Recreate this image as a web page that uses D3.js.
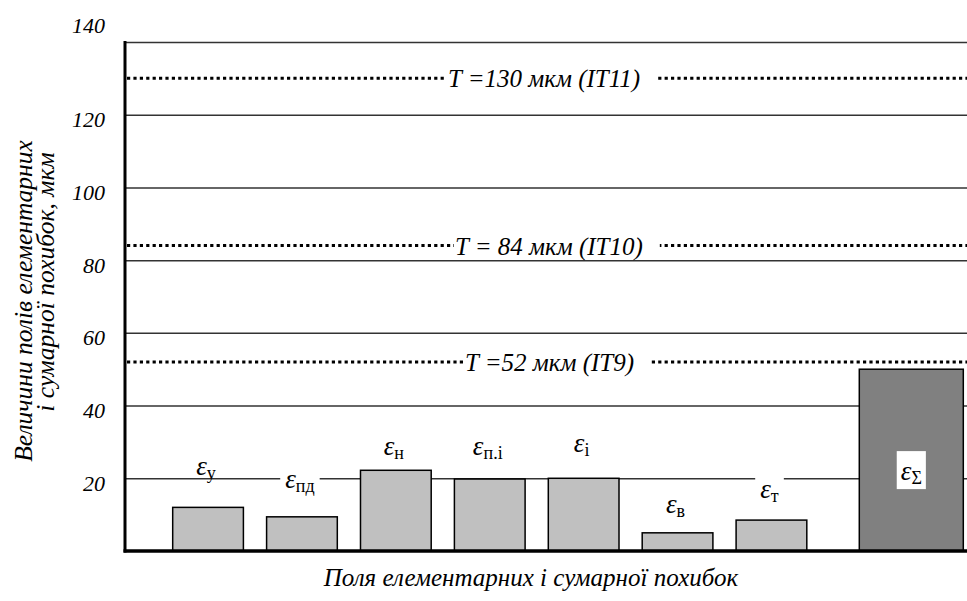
<!DOCTYPE html>
<html><head><meta charset="utf-8">
<script src="https://cdn.jsdelivr.net/npm/d3@7"></script>
<style>body{margin:0;background:#fff} svg{display:block}</style>
</head><body><svg id="c" width="967" height="601"></svg>
<script>
(function () {
// ---- data ----
const categories = ["у", "пд", "н", "п.і", "і", "в", "т"];
const values = [12, 9.4, 22.2, 19.8, 20, 5, 8.5];
const sumCategory = ["Σ"];
const sumValues = [50];
const toleranceValues = [130, 84, 52];
const toleranceLabels = ["T =130 мкм (IT11)", "T = 84 мкм (IT10)", "T =52 мкм (IT9)"];
const yTickValues = [20, 40, 60, 80, 100, 120, 140];
const yTitle = ["Величини полів елементарних", "і сумарної похибок, мкм"];
const xTitle = "Поля елементарних і сумарної похибок";

// ---- layout ----
const mLeft = 125, mRight = 967, mTop = 42, mBottom = 551;
const labelLevels = [20.9, 17.3, 26.4, 26.4, 27.2, 10.5, 14.6]; // label baselines (data units)
const sumLabelLevel = 19.5;
const tolLabelX = [448, 455, 465];
const FONT = "Times New Roman";

const svg = d3.select("#c");
const y = d3.scaleLinear().domain([0, 140]).range([mBottom, mTop]);
const x = d3.scaleBand().domain(categories).range([149.5, 830]).paddingInner(0.247).paddingOuter(0.247);
const xs = d3.scaleBand().domain(sumCategory).range([859.3, 963.3]).padding(0);

// gridlines + tick labels via axis
const yAxis = d3.axisLeft(y).tickValues(yTickValues).tickSize(-(mRight - mLeft)).tickPadding(20).tickFormat(d3.format("d"));
const gAx = svg.append("g").attr("transform", `translate(${mLeft},0)`).call(yAxis);
gAx.attr("font-family", FONT).attr("font-size", 22);
gAx.select(".domain").remove();
gAx.selectAll(".tick line").attr("stroke", "#333").attr("stroke-width", 1.5);
gAx.selectAll(".tick text")
  .attr("font-family", FONT).attr("font-style", "italic").attr("font-size", 22).attr("fill", "#000")
  .attr("dy", d => d === 140 ? "-0.42em" : "0.55em");

// tolerance dotted lines
svg.append("g").selectAll("line").data(toleranceValues).join("line")
  .attr("x1", mLeft + 2).attr("x2", mRight)
  .attr("y1", d => y(d)).attr("y2", d => y(d))
  .attr("stroke", "#000").attr("stroke-width", 3).attr("stroke-dasharray", "3.2,3.2");

const tolG = svg.append("g");
toleranceValues.forEach((v, i) => {
  const g = tolG.append("g");
  const t = g.append("text").attr("x", tolLabelX[i]).attr("y", y(v) + 9)
    .attr("font-family", FONT).attr("font-style", "italic").attr("font-size", 25).text(toleranceLabels[i]);
  const b = t.node().getBBox();
  g.insert("rect", "text").attr("x", b.x - 1).attr("y", b.y + 2).attr("width", b.width + 18).attr("height", b.height - 4).attr("fill", "#fff");
});

// bars
svg.append("g").selectAll("rect").data(values).join("rect")
  .attr("x", (d, i) => x(categories[i])).attr("width", x.bandwidth())
  .attr("y", d => y(d)).attr("height", d => y(0) - y(d))
  .attr("fill", "#c0c0c0").attr("stroke", "#000").attr("stroke-width", 1.5);

svg.append("g").selectAll("rect").data(sumValues).join("rect")
  .attr("x", (d, i) => xs(sumCategory[i])).attr("width", xs.bandwidth())
  .attr("y", d => y(d)).attr("height", d => y(0) - y(d))
  .attr("fill", "#808080").attr("stroke", "#000").attr("stroke-width", 1.5);

// axes lines
svg.append("line").attr("x1", mLeft).attr("x2", mLeft).attr("y1", mTop - 1).attr("y2", mBottom + 1.5)
  .attr("stroke", "#000").attr("stroke-width", 3);
svg.append("line").attr("x1", mLeft - 1.5).attr("x2", mRight).attr("y1", mBottom).attr("y2", mBottom)
  .attr("stroke", "#000").attr("stroke-width", 3.5);

// bar labels
function epsLabel(g, cx, by, sub) {
  const t = g.append("text").attr("x", cx).attr("y", by).attr("text-anchor", "middle")
    .attr("font-family", FONT);
  t.append("tspan").attr("font-style", "italic").attr("font-size", 27).text("ε");
  t.append("tspan").attr("font-size", 18).attr("dy", 4).text(sub);
  return t;
}
const labG = svg.append("g");
categories.forEach((c, i) => {
  const g = labG.append("g");
  const t = epsLabel(g, x(c) + x.bandwidth() / 2 - 2, y(labelLevels[i]), c);
  const b = t.node().getBBox();
  g.insert("rect", "text").attr("x", b.x - 5).attr("y", b.y).attr("width", b.width + 10).attr("height", b.height - 6).attr("fill", "#fff");
});
{
  const g = labG.append("g");
  const cx = xs(sumCategory[0]) + xs.bandwidth() / 2;
  const t = epsLabel(g, cx, y(sumLabelLevel), sumCategory[0]);
  const b = t.node().getBBox();
  g.insert("rect", "text").attr("x", b.x - 4).attr("y", y(sumLabelLevel) - 29).attr("width", b.width + 8).attr("height", 38).attr("fill", "#fff");
}

// titles
const yt = svg.append("g");
yt.append("text").attr("transform", "translate(32,301) rotate(-90)").attr("text-anchor", "middle")
  .attr("font-family", FONT).attr("font-style", "italic").attr("font-size", 25.5).text(yTitle[0]);
yt.append("text").attr("transform", "translate(54,282) rotate(-90)").attr("text-anchor", "middle")
  .attr("font-family", FONT).attr("font-style", "italic").attr("font-size", 25.5).text(yTitle[1]);
svg.append("text").attr("x", 531).attr("y", 586).attr("text-anchor", "middle")
  .attr("font-family", FONT).attr("font-style", "italic").attr("font-size", 25).text(xTitle);
})();
</script></body></html>
